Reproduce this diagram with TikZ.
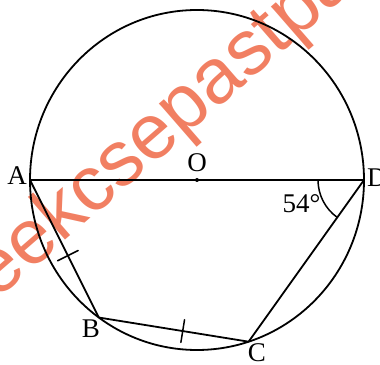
\documentclass[tikz,border=0pt]{standalone}
\usepackage{fontspec}
\usetikzlibrary{calc}
\setmainfont{Liberation Serif}
\newfontfamily\wmfont{Liberation Sans}
\definecolor{wmred}{RGB}{241,127,98}
\begin{document}
\begin{tikzpicture}[x=1pt,y=1pt,
  geo/.style={line width=1.8pt, line join=round},
  lab/.style={inner sep=0pt, font=\fontsize{27}{27}\selectfont},
  tickmark/.style={sloped, draw, line width=1.5pt, minimum width=0pt, minimum height=23pt, inner sep=0pt, shape=rectangle},
  wm/.style={wmred, anchor=base west, rotate=41, inner sep=0pt, font=\wmfont\fontsize{78}{78}\selectfont}]
\useasboundingbox (0,0) rectangle (380,364);
% watermark
\begin{scope}
\clip (0,0) rectangle (380,364);
\node[wm] (wmark) at (-39.8,31.8) {freekcsepastpapers};
\end{scope}
% points
\coordinate (O) at (197,184);
\coordinate (A) at (30,184);
\coordinate (D) at (364,184);
\coordinate (B) at ($(O)+(234:167 and 170)$);
\coordinate (C) at ($(O)+(288:167 and 170)$);
% circle
\draw[geo] (O) ellipse [x radius=167, y radius=170];
% figure
\draw[geo] (A) -- (D);
\draw[geo] (A) -- (B) node[tickmark, pos=0.55] (t1) {};
\draw[geo] (B) -- (C) node[tickmark, pos=0.56] (t2) {};
\draw[geo] (C) -- (D);
\fill (O) circle[radius=2];
% angle
\draw[line width=1.5pt] ([shift={(180:46)}]D) arc[start angle=180, end angle=234.5, radius=46];
% labels
\node[lab] (lA) at (17,188) {A};
\node[lab] (lO) at (197,201) {O};
\node[lab, anchor=west] (lD) at (367,186) {D};
\node[lab] (lB) at (91,35) {B};
\node[lab] (lC) at (257,11) {C};
\node[lab] (l54) at (301.5,160) {54°};
\end{tikzpicture}
\end{document}
